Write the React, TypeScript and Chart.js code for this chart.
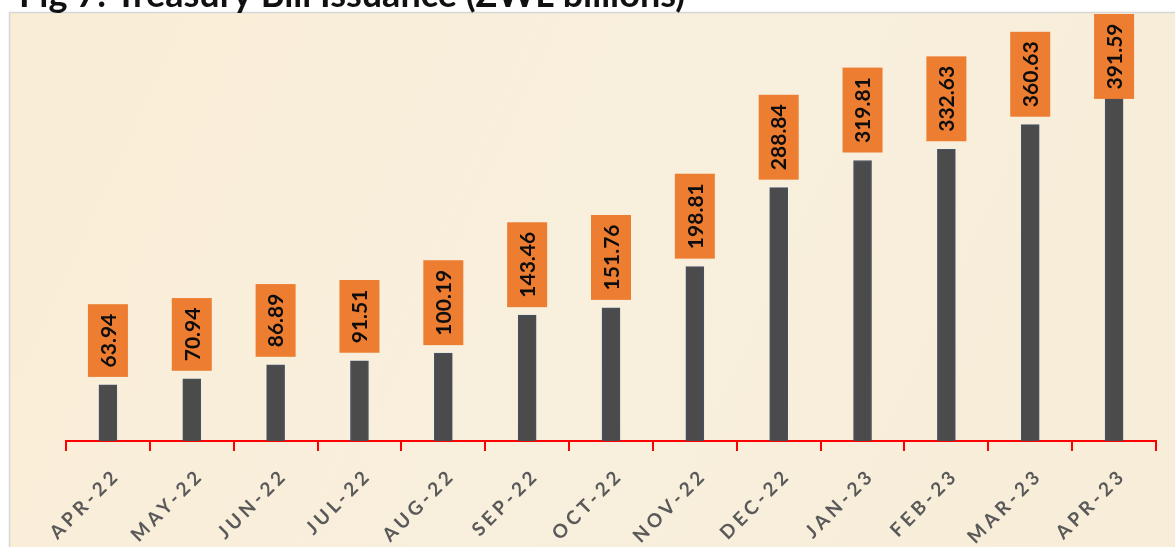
import React, { useEffect, useRef } from "react";
import { Chart, registerables } from "chart.js";

Chart.register(...registerables);

const titleText = "Fig 7: Treasury Bill Issuance (ZWL billions)";
const months = [
  "APR-22", "MAY-22", "JUN-22", "JUL-22", "AUG-22", "SEP-22", "OCT-22",
  "NOV-22", "DEC-22", "JAN-23", "FEB-23", "MAR-23", "APR-23",
];
const issuance = [
  63.94, 70.94, 86.89, 91.51, 100.19, 143.46, 151.76,
  198.81, 288.84, 319.81, 332.63, 360.63, 391.59,
];
const yMax = 480;

const W = 1175;
const H = 547;

const decorPlugin = {
  id: "decor",
  beforeDraw(chart: any) {
    const ctx = chart.ctx;
    ctx.save();
    ctx.fillStyle = "#ffffff";
    ctx.fillRect(0, 0, W, H);
    // panel
    const g = ctx.createLinearGradient(10, 13, W, H);
    g.addColorStop(0, "#faedd6");
    g.addColorStop(0.5, "#f8efdd");
    g.addColorStop(1, "#f7edd8");
    ctx.fillStyle = g;
    ctx.fillRect(10, 13, W - 10, H - 13);
    ctx.strokeStyle = "#d6d6d6";
    ctx.lineWidth = 1.5;
    ctx.beginPath();
    ctx.moveTo(9.5, H);
    ctx.lineTo(9.5, 12.5);
    ctx.lineTo(W, 12.5);
    ctx.stroke();
    // title (clipped at top)
    ctx.fillStyle = "#111111";
    ctx.font = "bold 36px Lato";
    ctx.textAlign = "left";
    ctx.textBaseline = "alphabetic";
    ctx.fillText(titleText, 19, 7);
    ctx.restore();
  },
  afterDraw(chart: any) {
    const ctx = chart.ctx;
    const meta = chart.getDatasetMeta(0);
    const xScale = chart.scales.x;
    const axisY = chart.chartArea.bottom;
    ctx.save();
    // value labels
    meta.data.forEach((bar: any, i: number) => {
      const txt = issuance[i].toFixed(2);
      ctx.font = "bold 21px Lato";
      const tw = ctx.measureText(txt).width;
      const bh = tw + 19;
      const bw = 40;
      let bottom = bar.y - 8;
      let top = bottom - bh;
      if (top < 14) {
        top = 14;
        bottom = top + bh;
      }
      ctx.fillStyle = "#ed7d31";
      ctx.fillRect(bar.x - bw / 2, top, bw, bh);
      ctx.save();
      ctx.translate(bar.x, top + bh / 2);
      ctx.rotate(-Math.PI / 2);
      ctx.fillStyle = "#0d0d0d";
      ctx.textAlign = "center";
      ctx.textBaseline = "middle";
      ctx.fillText(txt, 0, 1);
      ctx.restore();
    });
    // x labels
    months.forEach((m, i) => {
      const x = xScale.getPixelForTick(i);
      ctx.save();
      ctx.translate(x + 9, axisY + 31);
      ctx.rotate(-Math.PI / 4);
      ctx.font = "bold 19px Lato";
      (ctx as any).letterSpacing = "4px";
      ctx.fillStyle = "#595959";
      ctx.textAlign = "right";
      ctx.textBaseline = "middle";
      ctx.fillText(m, 0, 0);
      ctx.restore();
    });
    ctx.restore();
  },
};

export default function App() {
  const ref = useRef<HTMLCanvasElement>(null);
  useEffect(() => {
    if (!ref.current) return;
    const chart = new Chart(ref.current, {
      type: "bar",
      data: {
        labels: months,
        datasets: [
          {
            data: issuance,
            backgroundColor: "#4b4b4b",
            borderColor: "#44546a",
            borderWidth: 1,
            barThickness: 18,
          },
        ],
      },
      options: {
        animation: false,
        responsive: false,
        devicePixelRatio: 1,
        layout: { padding: { left: 66, right: 19, top: 20, bottom: 0 } },
        plugins: {
          legend: { display: false },
          tooltip: { enabled: false },
          title: { display: false },
        },
        scales: {
          x: {
            display: true,
            offset: true,
            grid: {
              display: true,
              offset: true,
              drawOnChartArea: false,
              color: "#ff0000",
              lineWidth: 2,
              tickLength: 10,
            },
            border: { display: true, color: "#ff0000", width: 2 },
            ticks: { display: false },
            afterFit: (scale: any) => {
              scale.height = 106;
            },
          },
          y: {
            display: false,
            min: 0,
            max: yMax,
          },
        },
      },
      plugins: [decorPlugin],
    });
    return () => chart.destroy();
  }, []);
  return (
    <div style={{ position: "absolute", left: 0, top: 0, width: W, height: H }}>
      <canvas ref={ref} width={W} height={H} style={{ display: "block" }} />
    </div>
  );
}
